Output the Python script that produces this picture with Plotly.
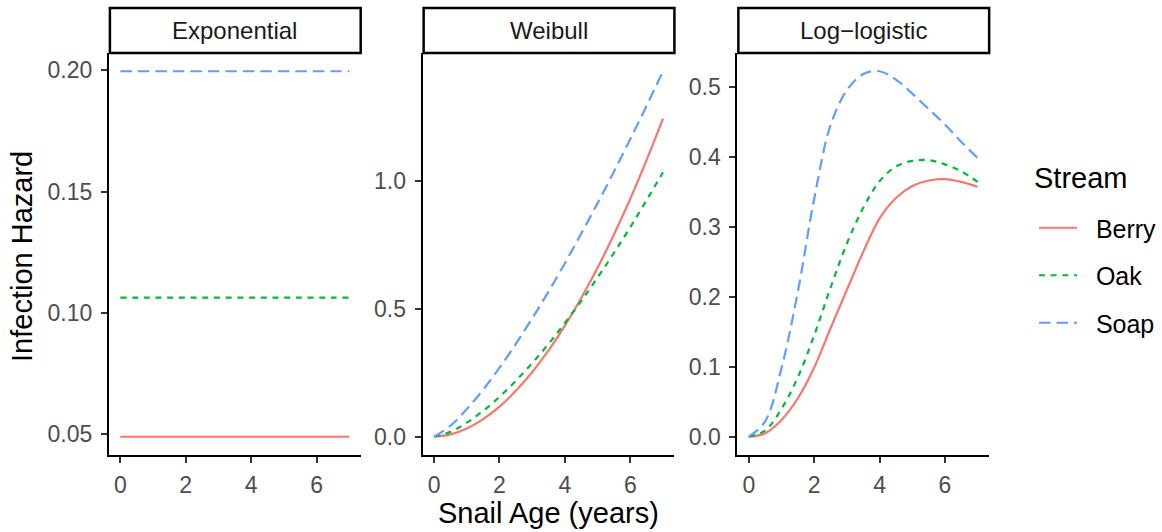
import plotly.graph_objects as go

# ---------------- data ----------------
STREAMS = ["Berry", "Oak", "Soap"]
MODELS = ["Exponential", "Weibull", "Log\u2212logistic"]
AGE = [0, 0.5, 1, 1.5, 2, 2.5, 3, 3.5, 4, 4.5, 5, 5.5, 6, 6.5, 7]

# Exponential hazards (constant over age)
EXP_BERRY = 0.0489
EXP_OAK = 0.1063
EXP_SOAP = 0.1996

# Weibull hazards
WEI_BERRY = [0, 0.009, 0.032, 0.069, 0.118, 0.18, 0.253, 0.338, 0.435, 0.543, 0.661, 0.791, 0.931, 1.083, 1.245]
WEI_OAK = [0, 0.019, 0.055, 0.101, 0.156, 0.219, 0.288, 0.363, 0.445, 0.531, 0.623, 0.719, 0.82, 0.926, 1.035]
WEI_SOAP = [0, 0.043, 0.108, 0.184, 0.27, 0.363, 0.463, 0.568, 0.679, 0.795, 0.914, 1.037, 1.165, 1.295, 1.43]

# Log-logistic hazards
LL_BERRY = [0, 0.005, 0.024, 0.055, 0.099, 0.155, 0.21, 0.264, 0.312, 0.341, 0.358, 0.366, 0.368, 0.364, 0.357]
LL_OAK = [0, 0.009, 0.04, 0.085, 0.145, 0.213, 0.276, 0.327, 0.365, 0.386, 0.394, 0.395, 0.389, 0.379, 0.364]
LL_SOAP = [0, 0.022, 0.098, 0.207, 0.34, 0.445, 0.495, 0.518, 0.522, 0.51, 0.49, 0.468, 0.446, 0.421, 0.398]

X_TICKS = [0, 2, 4, 6]
Y_TICKS_EXP = [0.05, 0.10, 0.15, 0.20]
Y_TICKS_WEI = [0.0, 0.5, 1.0]
Y_TICKS_LL = [0.0, 0.1, 0.2, 0.3, 0.4, 0.5]

# ---------------- styling ----------------
W, H = 1162, 532
COLORS = {"Berry": "#F8766D", "Oak": "#00BA38", "Soap": "#619CFF"}
DASHES = {"Berry": "solid", "Oak": "6px,5.7px", "Soap": "11.5px,6px"}
FONT = "Liberation Sans, Arial, sans-serif"

panels = [
    {"model": MODELS[0], "data": {"Berry": [EXP_BERRY] * len(AGE), "Oak": [EXP_OAK] * len(AGE), "Soap": [EXP_SOAP] * len(AGE)},
     "ticks": Y_TICKS_EXP, "fmt": ".2f", "px": (109, 361)},
    {"model": MODELS[1], "data": {"Berry": WEI_BERRY, "Oak": WEI_OAK, "Soap": WEI_SOAP},
     "ticks": Y_TICKS_WEI, "fmt": ".1f", "px": (423, 675)},
    {"model": MODELS[2], "data": {"Berry": LL_BERRY, "Oak": LL_OAK, "Soap": LL_SOAP},
     "ticks": Y_TICKS_LL, "fmt": ".1f", "px": (738, 990)},
]

TOP, BOT = 53, 455          # plot-area pixels
STRIP_TOP = 8

def px_x(v):
    return v / W

def px_y(v):
    return 1 - v / H

fig = go.Figure()
layout = {}
shapes = []
annotations = []

for i, p in enumerate(panels):
    ax = "" if i == 0 else str(i + 1)
    for s in STREAMS:
        fig.add_trace(go.Scatter(
            x=AGE, y=p["data"][s], mode="lines", name="\u00a0\u00a0" + s,
            legendgroup=s, showlegend=(i == 0),
            line=dict(color=COLORS[s], width=2.2, dash=DASHES[s], shape="spline", smoothing=1.0),
            xaxis="x" + ax, yaxis="y" + ax,
        ))
    allv = [v for s in STREAMS for v in p["data"][s]]
    lo, hi = min(allv), max(allv)
    pad = (hi - lo) * 0.05
    xmin, xmax = min(AGE), max(AGE)
    xpad = (xmax - xmin) * 0.05
    common = dict(showgrid=False, zeroline=False, showline=True, linecolor="black", linewidth=2,
                  ticks="outside", ticklen=6, tickwidth=2, tickcolor="#333333",
                  tickfont=dict(family=FONT, size=23, color="#4D4D4D"))
    layout["xaxis" + ax] = dict(common, domain=[px_x(p["px"][0]), px_x(p["px"][1])],
                                range=[xmin - xpad, xmax + xpad], tickvals=X_TICKS,
                                anchor="y" + ax, ticklabelstandoff=2)
    layout["yaxis" + ax] = dict(common, domain=[px_y(BOT), px_y(TOP)],
                                range=[lo - pad, hi + pad], tickvals=p["ticks"], tickformat=p["fmt"],
                                anchor="x" + ax, ticklabelstandoff=4)
    # facet strip
    shapes.append(dict(type="rect", xref="paper", yref="paper",
                       x0=px_x(p["px"][0] + 1), x1=px_x(p["px"][1]),
                       y0=px_y(TOP), y1=px_y(STRIP_TOP),
                       line=dict(color="black", width=2.5), fillcolor="white", layer="above"))
    annotations.append(dict(text=p["model"], xref="paper", yref="paper",
                            x=px_x((p["px"][0] + p["px"][1]) / 2), y=px_y((TOP + STRIP_TOP) / 2),
                            xanchor="center", yanchor="middle", showarrow=False,
                            font=dict(family=FONT, size=24, color="#1A1A1A")))

annotations.append(dict(text="Infection Hazard", xref="paper", yref="paper",
                        x=px_x(22), y=px_y(256), textangle=-90, showarrow=False,
                        xanchor="center", yanchor="middle",
                        font=dict(family=FONT, size=29, color="black")))
annotations.append(dict(text="Snail Age (years)", xref="paper", yref="paper",
                        x=px_x(549), y=px_y(513), showarrow=False,
                        xanchor="center", yanchor="middle",
                        font=dict(family=FONT, size=29, color="black")))
# legend title
annotations.append(dict(text="Stream", xref="paper", yref="paper",
                        x=px_x(1033), y=px_y(178), showarrow=False,
                        xanchor="left", yanchor="middle",
                        font=dict(family=FONT, size=29, color="black")))

fig.update_layout(
    width=W, height=H, margin=dict(l=0, r=0, t=0, b=0),
    paper_bgcolor="white", plot_bgcolor="white",
    shapes=shapes, annotations=annotations,
    legend=dict(font=dict(family=FONT, size=25, color="black"),
                x=px_x(1035), y=px_y(205), xanchor="left", yanchor="top",
                tracegroupgap=12, itemwidth=38, bgcolor="rgba(0,0,0,0)"),
    **layout,
)

fig.write_html("out.html", config={"displayModeBar": False},
               post_script="document.body.style.margin='0';document.body.style.padding='0';")
